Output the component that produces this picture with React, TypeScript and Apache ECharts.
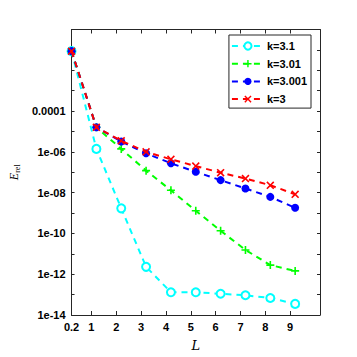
import React, { useEffect, useRef } from "react";
import * as echarts from "echarts";

const xValues = [0.2, 1.2, 2.2, 3.2, 4.2, 5.2, 6.2, 7.2, 8.2, 9.2];
const xTickValues = [0.2, 1, 2, 3, 4, 5, 6, 7, 8, 9];
const seriesNames = ["k=3.1", "k=3.01", "k=3.001", "k=3"];
const k31 = [8.7e-2, 1.4e-6, 1.7e-9, 2.3e-12, 1.3e-13, 1.3e-13, 1.1e-13, 9.3e-14, 6.8e-14, 3.5e-14];
const k301 = [8.7e-2, 1.6e-5, 1.4e-6, 1.2e-7, 1.3e-8, 1.3e-9, 1.35e-10, 1.55e-11, 2.8e-12, 1.45e-12];
const k3001 = [8.7e-2, 1.6e-5, 3.2e-6, 8.5e-7, 2.75e-7, 1.05e-7, 4.1e-8, 1.6e-8, 6.2e-9, 1.8e-9];
const k3 = [8.7e-2, 1.6e-5, 3.5e-6, 1.0e-6, 4.3e-7, 2.0e-7, 9.5e-8, 4.9e-8, 2.3e-8, 8.3e-9];
const yLabelValues = [1e-14, 1e-12, 1e-10, 1e-8, 1e-6, 1e-4];
const yTickLabels = ["1e-14", "1e-12", "1e-10", "1e-08", "1e-06", "0.0001"];
const yMajorTicks = [1e-14, 1e-13, 1e-12, 1e-11, 1e-10, 1e-9, 1e-8, 1e-7, 1e-6, 1e-5, 1e-4, 1e-3, 1e-2, 1e-1, 1];

const colors = ["#00FFFF", "#00FF00", "#0000FF", "#FF0000"];
const symbols = [
  "emptyCircle",
  "path://M4,0H6V4H10V6H6V10H4V6H0V4H4Z",
  "circle",
  "path://M1.4,0L5,3.6L8.6,0L10,1.4L6.4,5L10,8.6L8.6,10L5,6.4L1.4,10L0,8.6L3.6,5L0,1.4Z",
];
const symbolSizes = [8, 8, 8, 8];
const allData = [k31, k301, k3001, k3];

const axisColor = "#262626";
const font = "'Liberation Sans', Arial, sans-serif";

export default function App() {
  const ref = useRef<HTMLDivElement>(null);
  useEffect(() => {
    const chart = echarts.init(ref.current!, null, { renderer: "svg" });
    const labelFmt = (v: number) => {
      const i = yLabelValues.findIndex((t) => Math.abs(Math.log10(t) - Math.log10(v)) < 1e-6);
      return i >= 0 ? yTickLabels[i] : "";
    };
    const xAxisBase = {
      type: "value",
      min: 0.2,
      max: 10.2,
      axisLine: { show: true, onZero: false, lineStyle: { color: axisColor, width: 1 } },
      axisTick: { show: true, inside: true, length: 4, customValues: xTickValues, lineStyle: { color: axisColor } },
      splitLine: { show: false },
    };
    const yAxisBase = {
      type: "log",
      logBase: 10,
      min: 1e-14,
      max: 1,
      axisLine: { show: true, onZero: false, lineStyle: { color: axisColor, width: 1 } },
      axisTick: { show: true, inside: true, length: 3, customValues: yMajorTicks, lineStyle: { color: axisColor } },
      splitLine: { show: false },
    };
    chart.setOption({
      animation: false,
      backgroundColor: "#fff",
      grid: { left: 65.7, right: 37, top: 29.5, bottom: 42, containLabel: false },
      legend: {
        orient: "vertical",
        right: 46,
        top: 35,
        data: seriesNames,
        itemWidth: 32,
        itemHeight: 9,
        itemGap: 6.7,
        padding: [5.5, 4, 3.5, 2],
        backgroundColor: "#fff",
        borderColor: axisColor,
        borderWidth: 1,
        borderRadius: 0,
        textStyle: { fontFamily: font, fontWeight: "bold", fontSize: 11, color: "#000", padding: [0, 0, 0, -2] },
      },
      xAxis: [
        {
          ...xAxisBase,
          position: "bottom",
          name: "L",
          nameLocation: "middle",
          nameGap: 24,
          nameTextStyle: { fontFamily: "'DejaVu Serif', 'Liberation Serif', serif", fontStyle: "italic", fontSize: 13, color: "#000" },
          axisLabel: {
            show: true,
            customValues: xTickValues,
            fontFamily: font,
            fontWeight: "bold",
            fontSize: 11,
            color: "#000",
            margin: 6,
            formatter: (v: number) => String(Math.round(v * 10) / 10),
          },
        },
        { ...xAxisBase, position: "top", axisLabel: { show: false } },
      ],
      yAxis: [
        {
          ...yAxisBase,
          position: "left",
          name: "{e|E}{s|rel}",
          nameLocation: "middle",
          nameGap: 48,
          nameRotate: 90,
          nameTextStyle: {
            rich: {
              e: { fontFamily: "'Liberation Serif', serif", fontStyle: "italic", fontSize: 12, color: "#000" },
              s: { fontFamily: "'Liberation Serif', serif", fontSize: 8, color: "#000", verticalAlign: "bottom", padding: [6, 0, 0, 0] },
            },
          },
          axisLabel: {
            show: true,
            customValues: yLabelValues,
            fontFamily: font,
            fontWeight: "bold",
            fontSize: 11,
            color: "#000",
            margin: 6,
            formatter: labelFmt,
          },
        },
        { ...yAxisBase, position: "right", axisLabel: { show: false } },
      ],
      series: seriesNames.map((name, i) => ({
        name,
        type: "line",
        xAxisIndex: 0,
        yAxisIndex: 0,
        data: xValues.map((x, j) => [x, allData[i][j]]),
        symbol: symbols[i],
        symbolSize: symbolSizes[i],
        showAllSymbol: true,
        lineStyle: { color: colors[i], width: 2, type: [6, 5] },
        itemStyle: { color: colors[i], borderColor: colors[i], borderWidth: i === 0 ? 2 : 0 },
        z: 2 + i,
      })),
    });
    return () => chart.dispose();
  }, []);
  return <div ref={ref} style={{ position: "absolute", left: 0, top: 0, width: 357, height: 357 }} />;
}
